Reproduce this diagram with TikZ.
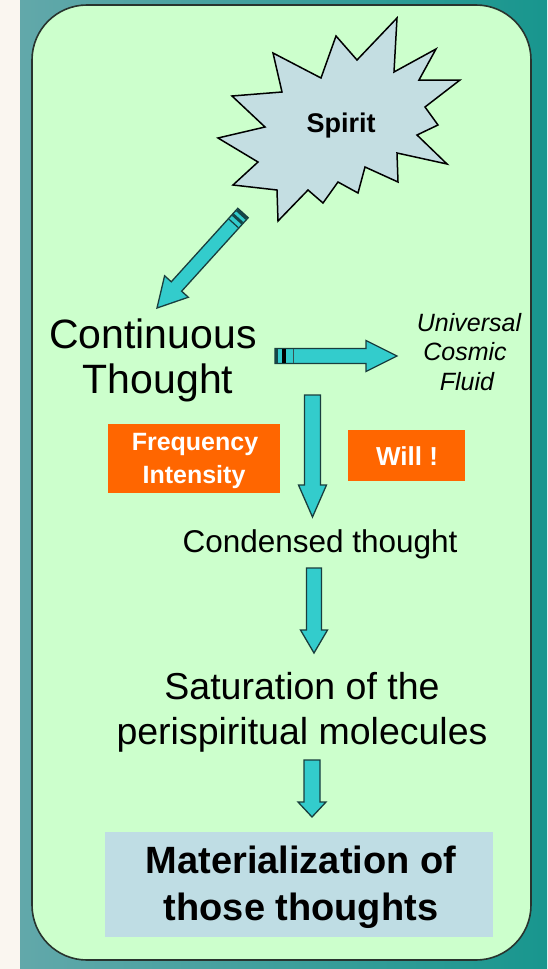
\documentclass[tikz,border=0pt]{standalone}
\usepackage{fontspec}
\setmainfont{Liberation Sans}
\usetikzlibrary{calc}
\definecolor{cream}{RGB}{250,246,240}
\definecolor{tealL}{RGB}{98,168,170}
\definecolor{tealR}{RGB}{24,150,142}
\definecolor{paleGreen}{RGB}{204,255,204}
\definecolor{starBlue}{RGB}{196,222,226}
\definecolor{cyanA}{RGB}{51,204,204}
\definecolor{arrowEdge}{RGB}{25,62,62}
\definecolor{stripeDark}{RGB}{20,70,72}
\definecolor{orangeBox}{RGB}{255,102,0}
\definecolor{matBlue}{RGB}{191,221,228}
\definecolor{frameEdge}{RGB}{40,52,46}
\tikzset{
  arrowbody/.style={fill=cyanA, draw=arrowEdge, line width=1.3pt, line join=miter},
  txt/.style={inner sep=0pt, anchor=base, text=black},
  wtxt/.style={inner sep=0pt, anchor=base, text=white, font=\fontsize{25}{30}\selectfont\bfseries},
  obox/.style={fill=orangeBox, inner sep=0pt},
}
% #1 tail, #2 tip, #3 shaft half width, #4 head half width, #5 head length
\newcommand{\blockarrow}[5]{%
  \coordinate (ba-h) at ($(#2)!#5!(#1)$);
  \draw[arrowbody] ($(#1)!#3!90:(#2)$) -- ($(ba-h)!#3!90:(#2)$) -- ($(ba-h)!#4!90:(#2)$)
    -- (#2) -- ($(ba-h)!#4!-90:(#2)$) -- ($(ba-h)!#3!-90:(#2)$) -- ($(#1)!#3!-90:(#2)$) -- cycle;
}
% #1 tail, #2 tip, #3 distance from tail, #4 half width, #5 line width, #6 colour
\newcommand{\tailstripe}[6]{%
  \coordinate (ts-p) at ($(#1)!#3!(#2)$);
  \draw[line width=#5, draw=#6] ($(ts-p)!#4!90:(#2)$) -- ($(ts-p)!#4!-90:(#2)$);
}
\begin{document}
\begin{tikzpicture}[x=1pt, y=-1pt]
\useasboundingbox (0,0) rectangle (547,969);
% background
\fill[cream] (0,0) rectangle (547,969);
\shade[left color=tealL, right color=tealR] (20,0) rectangle (547,969);
% main rounded panel
\draw[fill=paleGreen, draw=frameEdge, line width=1.6pt, rounded corners=55pt] (32,5) rectangle (531,960);

% Spirit star
\draw[fill=starBlue, draw=black, line width=1.5pt, line join=miter]
  (397,18) -- (394,72) -- (436,49) -- (419,80) -- (460,80) -- (425,107) -- (438,125)
  -- (417,135) -- (447,164) -- (397,153) -- (398,182) -- (365,167) -- (358,193)
  -- (338,182) -- (323,203) -- (308,190) -- (278,221) -- (277,190) -- (233,185)
  -- (258,162) -- (218,138) -- (265,127) -- (232,96) -- (282,92) -- (273,53)
  -- (321,78) -- (336,36) -- (357,60) -- cycle;
\node[txt, font=\fontsize{27}{30}\selectfont\bfseries] (spirit) at (341,132) {Spirit};

% texts
\node[txt, font=\fontsize{41}{46}\selectfont] (ct1) at (153,348) {Continuous};
\node[txt, font=\fontsize{41}{46}\selectfont] (ct2) at (158,393) {Thought};

\node[txt, font=\fontsize{25}{30}\selectfont\itshape] (ucf1) at (469,331) {Universal};
\node[txt, font=\fontsize{25}{30}\selectfont\itshape] (ucf2) at (465,360) {Cosmic};
\node[txt, font=\fontsize{25}{30}\selectfont\itshape] (ucf3) at (467,390) {Fluid};

\node[obox, minimum width=171.5pt, minimum height=69pt] (freq) at (194,458.5) {};
\node[wtxt] (freq1) at (195,450) {Frequency};
\node[wtxt] (freq2) at (194,483) {Intensity};

\node[obox, minimum width=117pt, minimum height=51pt] (will) at (406.5,455.5) {};
\node[wtxt, font=\fontsize{26}{30}\selectfont\bfseries] (willt) at (407,465) {Will !};

\node[txt, font=\fontsize{31.5}{36}\selectfont] (cond) at (320,552) {Condensed thought};

\node[txt, font=\fontsize{37.5}{45}\selectfont] (sat1) at (302,699) {Saturation of the};
\node[txt, font=\fontsize{37.5}{45}\selectfont] (sat2) at (302,744) {perispiritual molecules};

\node[fill=matBlue, inner sep=0pt, minimum width=388pt, minimum height=105pt] (mat) at (298.5,884.5) {};
\node[txt, font=\fontsize{38}{47}\selectfont\bfseries] (mat1) at (301,873) {Materialization of};
\node[txt, font=\fontsize{38}{47}\selectfont\bfseries] (mat2) at (301,920) {those thoughts};

% arrows
\coordinate (a1s) at (243,213); \coordinate (a1e) at (157,308);
\coordinate (a2s) at (275,356); \coordinate (a2e) at (397,356);
\coordinate (a3s) at (312.5,395); \coordinate (a3e) at (312.5,517);
\coordinate (a4s) at (314,568); \coordinate (a4e) at (314,653);
\coordinate (a5s) at (312,760); \coordinate (a5e) at (312,817);

\blockarrow{a1s}{a1e}{7pt}{16pt}{29pt}
\tailstripe{a1s}{a1e}{1.8pt}{6.3pt}{3pt}{stripeDark}
\tailstripe{a1s}{a1e}{8pt}{6.3pt}{3pt}{stripeDark}
\tailstripe{a1s}{a1e}{14pt}{6.3pt}{1.2pt}{arrowEdge}

\blockarrow{a2s}{a2e}{7.5pt}{15.5pt}{31pt}
\tailstripe{a2s}{a2e}{1.8pt}{6.8pt}{3pt}{stripeDark}
\tailstripe{a2s}{a2e}{9pt}{6.8pt}{4pt}{black}
\tailstripe{a2s}{a2e}{18.5pt}{6.8pt}{1.4pt}{arrowEdge!70!gray}

\blockarrow{a3s}{a3e}{8pt}{14pt}{32pt}
\blockarrow{a4s}{a4e}{7.5pt}{13.5pt}{23pt}
\blockarrow{a5s}{a5e}{8pt}{14pt}{15pt}
\end{tikzpicture}
\end{document}
